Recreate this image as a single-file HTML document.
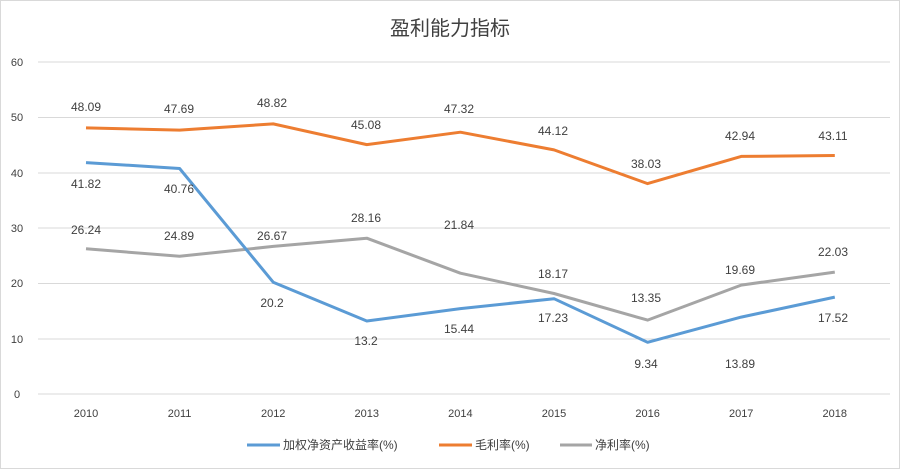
<!DOCTYPE html>
<html><head><meta charset="utf-8"><style>
body{margin:0;background:#fff}
svg text{font-family:"Liberation Sans","Noto Sans CJK SC",sans-serif;fill:#404040}
</style></head><body>
<svg width="900" height="469" viewBox="0 0 900 469" xmlns="http://www.w3.org/2000/svg">
<rect x="0.5" y="0.5" width="899" height="468" fill="#fff" stroke="#d9d9d9"/>
<text x="450" y="35" font-size="20" text-anchor="middle" fill="#595959">盈利能力指标</text>
<g stroke="#d9d9d9" stroke-width="1">
<line x1="38" x2="890" y1="62" y2="62"/><line x1="38" x2="890" y1="117.5" y2="117.5"/>
<line x1="38" x2="890" y1="173" y2="173"/><line x1="38" x2="890" y1="228" y2="228"/>
<line x1="38" x2="890" y1="283.5" y2="283.5"/><line x1="38" x2="890" y1="339" y2="339"/>
<line x1="38" x2="890" y1="394" y2="394"/>
</g>
<g font-size="11" text-anchor="middle">
<text x="17" y="66">60</text><text x="17" y="121">50</text><text x="17" y="177">40</text>
<text x="17" y="232">30</text><text x="17" y="287">20</text><text x="17" y="343">10</text><text x="17" y="398">0</text>
<text x="86" y="417">2010</text><text x="179.6" y="417">2011</text><text x="273.2" y="417">2012</text>
<text x="366.8" y="417">2013</text><text x="460.4" y="417">2014</text><text x="554" y="417">2015</text>
<text x="647.6" y="417">2016</text><text x="741.2" y="417">2017</text><text x="834.8" y="417">2018</text>
</g>
<g fill="none" stroke-width="3" stroke-linejoin="round">
<polyline stroke="#ed7d31" points="86,127.9 179.6,130.1 273.2,123.9 366.8,144.6 460.4,132.2 554,149.9 647.6,183.6 741.2,156.4 834.8,155.5"/>
<polyline stroke="#a5a5a5" points="86,248.8 179.6,256.3 273.2,246.4 366.8,238.2 460.4,273.2 554,293.5 647.6,320.1 741.2,285.1 834.8,272.1"/>
<polyline stroke="#5b9bd5" points="86,162.6 179.6,168.5 273.2,282.2 366.8,321 460.4,308.6 554,298.7 647.6,342.3 741.2,317.1 834.8,297.1"/>
</g>
<g font-size="12" text-anchor="middle">
<text x="86" y="111">48.09</text><text x="179" y="113">47.69</text><text x="272" y="107">48.82</text>
<text x="366" y="129">45.08</text><text x="459" y="113">47.32</text><text x="553" y="135">44.12</text>
<text x="646" y="168">38.03</text><text x="740" y="140">42.94</text><text x="833" y="140">43.11</text>
<text x="86" y="188">41.82</text><text x="179" y="193">40.76</text><text x="272" y="307">20.2</text>
<text x="366" y="345">13.2</text><text x="459" y="333">15.44</text><text x="553" y="322">17.23</text>
<text x="646" y="368">9.34</text><text x="740" y="368">13.89</text><text x="833" y="322">17.52</text>
<text x="86" y="234">26.24</text><text x="179" y="240">24.89</text><text x="272" y="240">26.67</text>
<text x="366" y="222">28.16</text><text x="459" y="229">21.84</text><text x="553" y="278">18.17</text>
<text x="646" y="302">13.35</text><text x="740" y="274">19.69</text><text x="833" y="256">22.03</text>
</g>
<g stroke-width="3">
<line x1="247" x2="280" y1="445" y2="445" stroke="#5b9bd5"/>
<line x1="439" x2="472" y1="445" y2="445" stroke="#ed7d31"/>
<line x1="560" x2="592" y1="445" y2="445" stroke="#a5a5a5"/>
</g>
<g font-size="12">
<text x="283" y="449">加权净资产收益率(%)</text>
<text x="475" y="449">毛利率(%)</text>
<text x="595" y="449">净利率(%)</text>
</g>
</svg>
</body></html>
